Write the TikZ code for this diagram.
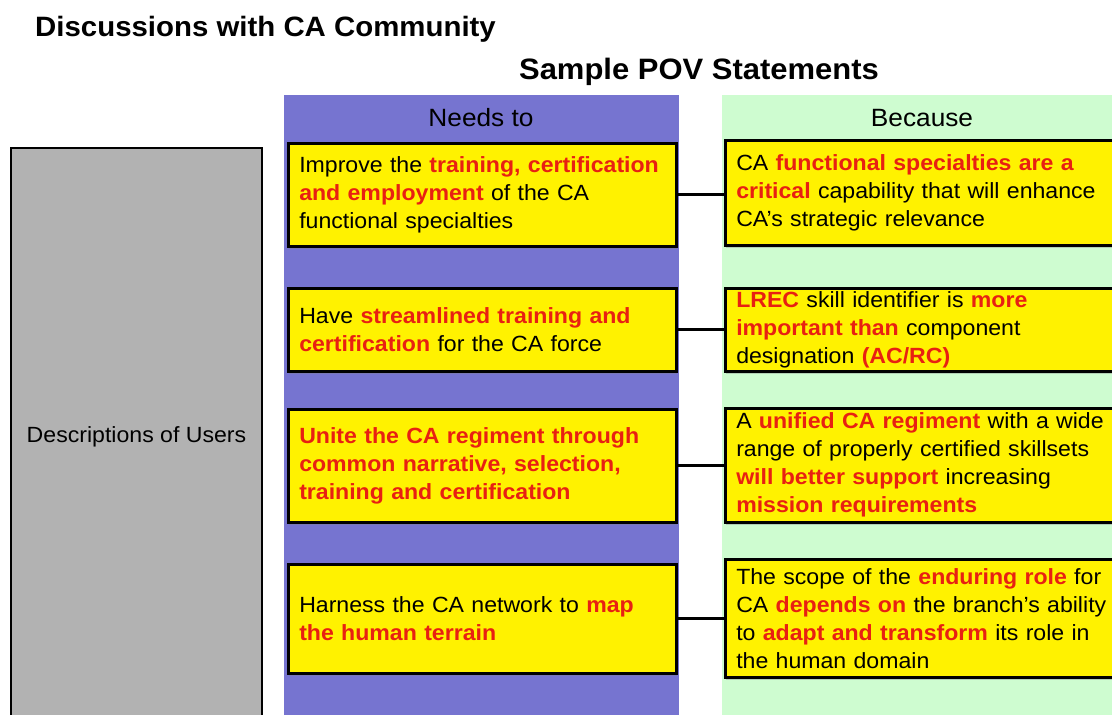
\documentclass[tikz,border=0pt]{standalone}
\usepackage{fontspec}
\setmainfont{Liberation Sans}[FakeStretch=1.05]
\usetikzlibrary{shadows}

\definecolor{needblue}{RGB}{118,116,208}
\definecolor{becgreen}{RGB}{206,252,208}
\definecolor{usergray}{RGB}{178,178,178}
\definecolor{povred}{RGB}{232,32,18}
\newcommand{\hot}[1]{\textcolor{povred}{\textbf{#1}}}

\begin{document}
\begin{tikzpicture}[x=1pt,y=-1pt,
  pov/.style={draw=black, line width=2.5pt, fill=yellow, anchor=north west,
    align=left, inner xsep=11pt, inner ysep=0pt,
    font=\fontsize{22}{28}\selectfont,
    drop shadow={shadow xshift=1pt, shadow yshift=-2.5pt, opacity=0.35}},
  povl/.style={pov, text width=366pt},
  povr/.style={pov, text width=378pt},
  link/.style={black, line width=3pt}]
\useasboundingbox (0,0) rectangle (1112,715);
\fill[white] (0,0) rectangle (1112,715);

% titles
\node[anchor=base west, inner sep=0pt, font=\bfseries\fontsize{28}{32}\selectfont] (title) at (35,36) {Discussions with CA Community};
\node[anchor=base, inner sep=0pt, font=\bfseries\fontsize{29.5}{34}\selectfont] (sample) at (699,79) {Sample POV Statements};

% users column
\node[draw=black, line width=2pt, fill=usergray, anchor=north west, minimum width=251pt, minimum height=578pt,
  font=\fontsize{22}{28}\selectfont] (users) at (10,147) {Descriptions of Users};

% column backgrounds
\fill[needblue] (284,95) rectangle (679,730);
\fill[becgreen] (722,95) rectangle (1120,730);
\node[font=\fontsize{25}{30}\selectfont] (needs) at (481,118) {Needs to};
\node[font=\fontsize{25}{30}\selectfont] (because) at (922,118) {Because};

% needs to
\node[povl, minimum height=103pt] (n1) at (287,142) {Improve the \hot{training, certification}\\
  \hot{and employment} of the CA\\ functional specialties};
\node[povl, minimum height=83pt] (n2) at (287,287) {Have \hot{streamlined training and}\\
  \hot{certification} for the CA force};
\node[povl, minimum height=113pt] (n3) at (287,408) {\hot{Unite the CA regiment through}\\
  \hot{common narrative, selection,}\\ \hot{training and certification}};
\node[povl, minimum height=109pt] (n4) at (287,563) {Harness the CA network to \hot{map}\\
  \hot{the human terrain}};

% because
\node[povr, minimum height=105pt] (b1) at (724,139) {CA \hot{functional specialties are a}\\
  \hot{critical} capability that will enhance\\ CA's strategic relevance};
\node[povr, minimum height=83pt] (b2) at (724,287) {\hot{LREC} skill identifier is \hot{more}\\
  \hot{important than} component\\ designation \hot{(AC/RC)}};
\node[povr, minimum height=114pt] (b3) at (724,407) {A \hot{unified CA regiment} with a wide\\
  range of properly certified skillsets\\ \hot{will better support} increasing\\ \hot{mission requirements}};
\node[povr, minimum height=118pt] (b4) at (724,558) {The scope of the \hot{enduring role} for\\
  CA \hot{depends on} the branch's ability\\ to \hot{adapt and transform} its role in\\ the human domain};

% links
\draw[link] (n1.east) -- (n1.east -| b1.west);
\draw[link] (n2.east) -- (n2.east -| b2.west);
\draw[link] (n3.east) -- (n3.east -| b3.west);
\draw[link] (n4.east) -- (n4.east -| b4.west);
\end{tikzpicture}
\end{document}
